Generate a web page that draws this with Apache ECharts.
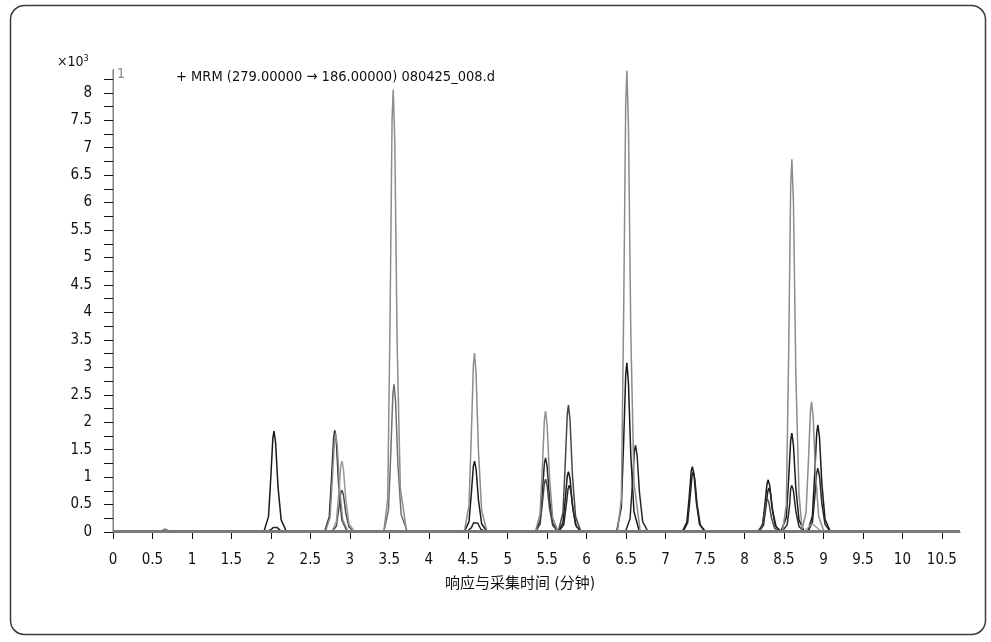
<!DOCTYPE html>
<html>
<head>
<meta charset="utf-8">
<script src="https://cdn.jsdelivr.net/npm/echarts@6/dist/echarts.min.js"></script>
<style>
  html, body { margin: 0; padding: 0; background: #fff; }
  #chart { width: 991px; height: 642px; }
</style>
</head>
<body>
<div id="chart"></div>
<script>
// MRM chromatogram, acquisition time (min) vs. response (x10^3)

// axis ticks and labels
const xTicks = [0, 0.5, 1, 1.5, 2, 2.5, 3, 3.5, 4, 4.5, 5, 5.5, 6, 6.5, 7, 7.5, 8, 8.5, 9, 9.5, 10, 10.5];
const yLabels = [0, 0.5, 1, 1.5, 2, 2.5, 3, 3.5, 4, 4.5, 5, 5.5, 6, 6.5, 7, 7.5, 8];
const yTicks = [0, 0.25, 0.5, 0.75, 1, 1.25, 1.5, 1.75, 2, 2.25, 2.5, 2.75, 3, 3.25, 3.5, 3.75, 4, 4.25,
  4.5, 4.75, 5, 5.25, 5.5, 5.75, 6, 6.25, 6.5, 6.75, 7, 7.25, 7.5, 7.75, 8, 8.25];

// common baseline of all transitions
const baseline = [[0, 0.01], [0.62, 0.01], [0.66, 0.04], [0.70, 0.01], [10.73, 0.01]];

// transition traces: [time (min), response (x10^3)]
const traceBlackA = [[0, 0],
  [1.91, 0], [1.97, 0.28], [2.00, 1.01], [2.025, 1.71], [2.04, 1.84], [2.06, 1.62], [2.09, 0.83], [2.13, 0.22], [2.20, 0],
  [4.45, 0], [4.51, 0.19], [4.54, 0.71], [4.565, 1.20], [4.58, 1.29], [4.60, 1.14], [4.63, 0.58], [4.67, 0.15], [4.74, 0],
  [5.64, 0], [5.70, 0.17], [5.73, 0.61], [5.755, 1.02], [5.77, 1.10], [5.79, 0.97], [5.82, 0.50], [5.86, 0.13], [5.93, 0],
  [6.38, 0], [6.44, 0.46], [6.47, 1.69], [6.495, 2.86], [6.51, 3.08], [6.53, 2.71], [6.56, 1.39], [6.60, 0.37], [6.67, 0],
  [7.21, 0], [7.27, 0.18], [7.30, 0.65], [7.325, 1.11], [7.34, 1.19], [7.36, 1.05], [7.39, 0.54], [7.43, 0.14], [7.50, 0],
  [8.17, 0], [8.23, 0.14], [8.26, 0.52], [8.285, 0.88], [8.30, 0.95], [8.32, 0.84], [8.35, 0.43], [8.39, 0.11], [8.46, 0],
  [8.47, 0], [8.53, 0.27], [8.56, 0.99], [8.585, 1.67], [8.60, 1.80], [8.62, 1.58], [8.65, 0.81], [8.69, 0.22], [8.76, 0],
  [8.80, 0], [8.86, 0.29], [8.89, 1.07], [8.915, 1.81], [8.93, 1.95], [8.95, 1.72], [8.98, 0.88], [9.02, 0.23], [9.09, 0],
  [10.73, 0]];

const traceBlackB = [[0, 0],
  [1.94, 0], [2.00, 0.04], [2.03, 0.08], [2.05, 0.09], [2.08, 0.08], [2.12, 0.03], [2.18, 0],
  [2.68, 0], [2.74, 0.28], [2.77, 1.02], [2.795, 1.72], [2.81, 1.85], [2.83, 1.63], [2.86, 0.83], [2.90, 0.22], [2.97, 0],
  [4.48, 0], [4.54, 0.08], [4.57, 0.17], [4.59, 0.20], [4.62, 0.16], [4.66, 0.05], [4.72, 0],
  [5.35, 0], [5.41, 0.20], [5.44, 0.74], [5.465, 1.26], [5.48, 1.35], [5.50, 1.19], [5.53, 0.61], [5.57, 0.16], [5.64, 0],
  [5.65, 0], [5.71, 0.13], [5.74, 0.47], [5.765, 0.79], [5.78, 0.85], [5.80, 0.75], [5.83, 0.38], [5.87, 0.10], [5.94, 0],
  [6.49, 0], [6.55, 0.24], [6.58, 0.87], [6.605, 1.47], [6.62, 1.58], [6.64, 1.39], [6.67, 0.71], [6.71, 0.19], [6.78, 0],
  [7.22, 0], [7.28, 0.17], [7.31, 0.61], [7.335, 1.02], [7.35, 1.10], [7.37, 0.97], [7.40, 0.50], [7.44, 0.13], [7.51, 0],
  [8.18, 0], [8.24, 0.12], [8.27, 0.44], [8.295, 0.74], [8.31, 0.80], [8.33, 0.70], [8.36, 0.36], [8.40, 0.10], [8.47, 0],
  [8.48, 0], [8.54, 0.13], [8.57, 0.47], [8.585, 0.79], [8.60, 0.85], [8.62, 0.75], [8.65, 0.38], [8.69, 0.10], [8.76, 0],
  [8.80, 0], [8.86, 0.17], [8.89, 0.64], [8.915, 1.08], [8.93, 1.16], [8.95, 1.02], [8.98, 0.52], [9.02, 0.14], [9.09, 0],
  [10.73, 0]];

const traceDark = [[0, 0],
  [2.77, 0], [2.83, 0.11], [2.86, 0.42], [2.885, 0.71], [2.90, 0.76], [2.92, 0.67], [2.95, 0.34], [2.99, 0.09], [3.06, 0],
  [5.35, 0], [5.41, 0.14], [5.44, 0.53], [5.465, 0.89], [5.48, 0.96], [5.50, 0.84], [5.53, 0.43], [5.57, 0.12], [5.64, 0],
  [5.70, 0.35], [5.73, 1.27], [5.755, 2.15], [5.77, 2.31], [5.79, 2.03], [5.82, 1.04], [5.86, 0.28], [5.93, 0],
  [8.16, 0], [8.22, 0.09], [8.25, 0.33], [8.275, 0.56], [8.29, 0.60], [8.31, 0.53], [8.34, 0.27], [8.38, 0.07], [8.45, 0],
  [10.73, 0]];

const traceMid = [[0, 0],
  [3.43, 0], [3.49, 0.40], [3.52, 1.48], [3.545, 2.50], [3.56, 2.69], [3.58, 2.37], [3.61, 1.21], [3.65, 0.32], [3.73, 0],
  [10.73, 0]];

const traceGrayA = [[0, 0],
  [2.69, 0], [2.75, 0.27], [2.78, 0.99], [2.805, 1.67], [2.82, 1.80], [2.84, 1.58], [2.87, 0.81], [2.91, 0.22], [2.98, 0],
  [3.43, 0], [3.48, 0.60], [3.51, 3.90], [3.535, 7.50], [3.55, 8.06], [3.57, 7.10], [3.60, 3.40], [3.64, 0.80], [3.72, 0],
  [4.45, 0], [4.51, 0.49], [4.54, 1.79], [4.565, 3.03], [4.58, 3.26], [4.60, 2.87], [4.63, 1.47], [4.67, 0.39], [4.74, 0],
  [5.35, 0], [5.41, 0.33], [5.44, 1.21], [5.465, 2.05], [5.48, 2.20], [5.50, 1.94], [5.53, 0.99], [5.57, 0.26], [5.64, 0],
  [6.39, 0], [6.44, 0.60], [6.47, 4.10], [6.495, 7.80], [6.51, 8.40], [6.53, 7.40], [6.56, 3.60], [6.60, 0.90], [6.68, 0],
  [8.48, 0], [8.53, 0.50], [8.56, 3.30], [8.585, 6.30], [8.60, 6.79], [8.62, 6.00], [8.65, 2.90], [8.69, 0.70], [8.73, 0.05],
  [8.78, 0.36], [8.81, 1.30], [8.835, 2.20], [8.85, 2.37], [8.87, 2.09], [8.90, 1.07], [8.94, 0.28], [9.01, 0],
  [10.73, 0]];

const traceGrayB = [[0, 0],
  [2.77, 0], [2.83, 0.19], [2.86, 0.71], [2.885, 1.20], [2.90, 1.29], [2.92, 1.14], [2.95, 0.58], [2.99, 0.15], [3.06, 0],
  [8.76, 0], [8.82, 0.10], [8.86, 0.15], [8.90, 0.10], [8.98, 0],
  [10.73, 0]];

const FONT = '"DejaVu Sans Condensed", "DejaVu Sans", "Noto Sans CJK SC", sans-serif';
const X_MAX = 10.73;
const Y_MAX = 8.42;

function trace(name, data, color, width) {
  return {
    name: name,
    type: 'line',
    data: data,
    showSymbol: false,
    symbol: 'none',
    smooth: false,
    lineStyle: { color: color, width: width },
    emphasis: { disabled: true },
    z: 2
  };
}

const chart = echarts.init(document.getElementById('chart'), null, { renderer: 'canvas' });
chart.setOption({
  animation: false,
  backgroundColor: '#ffffff',
  title: [
    { text: '×10{sup|3}', left: 57, top: 54, padding: 0,
      textStyle: { fontFamily: FONT, fontSize: 14, fontWeight: 'normal', color: '#111',
        rich: { sup: { fontFamily: FONT, fontSize: 9, color: '#111', verticalAlign: 'top', padding: [0, 0, 8, 0] } } } },
    { text: '1', left: 117, top: 67, padding: 0,
      textStyle: { fontFamily: FONT, fontSize: 14, fontWeight: 'normal', color: '#8a8a8a' } },
    { text: '+ MRM (279.00000 → 186.00000) 080425_008.d', left: 176, top: 70, padding: 0,
      textStyle: { fontFamily: FONT, fontSize: 14.5, fontWeight: 'normal', color: '#111' } },
    { text: '响应与采集时间 (分钟)', left: 520, top: 577, textAlign: 'center', padding: 0,
      textStyle: { fontFamily: FONT, fontSize: 15, fontWeight: 'normal', color: '#111' } }
  ],
  graphic: [
    { type: 'rect', left: 8, top: 3, z: -1, silent: true,
      shape: { width: 975, height: 629, r: 14 },
      style: { fill: 'none', stroke: '#3a3a3a', lineWidth: 1.5 } }
  ],
  grid: { left: 113, right: 991 - 960, top: 532 - Y_MAX * 54.9, bottom: 642 - 532, containLabel: false },
  xAxis: {
    type: 'value', min: 0, max: X_MAX, offset: 6,
    splitLine: { show: false },
    axisLine: { show: true, lineStyle: { color: '#111', width: 1 } },
    axisTick: { show: true, length: 7, inside: false, customValues: xTicks, lineStyle: { color: '#111', width: 1 } },
    axisLabel: { customValues: xTicks, margin: 15, fontFamily: FONT, fontSize: 15, color: '#111' }
  },
  yAxis: [
    {
      type: 'value', min: 0, max: Y_MAX, offset: 4, position: 'left',
      splitLine: { show: false },
      axisLine: { show: true, lineStyle: { color: '#111', width: 1 } },
      axisTick: { show: true, length: 9, inside: false, customValues: yTicks, lineStyle: { color: '#111', width: 1 } },
      axisLabel: { customValues: yLabels, margin: 17, fontFamily: FONT, fontSize: 15, color: '#111' }
    },
    {
      type: 'value', min: 0, max: Y_MAX, offset: 0, position: 'left',
      splitLine: { show: false },
      axisLine: { show: true, lineStyle: { color: '#a8a8a8', width: 1.5 } },
      axisTick: { show: false },
      axisLabel: { show: false }
    }
  ],
  series: [
    trace('black A', traceBlackA, '#1a1a1a', 1.5),
    trace('black B', traceBlackB, '#262626', 1.5),
    trace('dark', traceDark, '#474747', 1.5),
    trace('mid', traceMid, '#6e6e6e', 1.5),
    trace('gray A', traceGrayA, '#8c8c8c', 1.5),
    trace('gray B', traceGrayB, '#9a9a9a', 1.5),
    Object.assign(trace('baseline', baseline, '#7a7a7a', 3), { z: 3 })
  ]
});
</script>
</body>
</html>
